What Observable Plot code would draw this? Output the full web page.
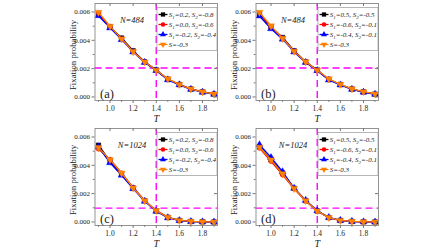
<!DOCTYPE html>
<html>
<head>
<meta charset="utf-8">
<script src="https://cdn.jsdelivr.net/npm/d3@7"></script>
<script src="https://cdn.jsdelivr.net/npm/@observablehq/plot@0.6"></script>
<style>
  html, body { margin: 0; padding: 0; background: white; }
  #fig { position: relative; width: 448px; height: 252px; overflow: hidden; background: white; }
  #fig svg { position: absolute; }
</style>
</head>
<body>
<div id="fig"></div>
<script>
// ---------- data ----------
const T = [0.9, 1.0, 1.1, 1.2, 1.3, 1.4, 1.5, 1.6, 1.7, 1.8, 1.9];
const xTicks = [1.0, 1.2, 1.4, 1.6, 1.8];
const xMinor = [0.9, 1.1, 1.3, 1.5, 1.7, 1.9];
const yTicks = [0.000, 0.002, 0.004, 0.006];
const yMinor = [0.001, 0.003, 0.005];
const seriesColors = ["#000000", "#ff0000", "#0000ff", "#ff8000"];
const panelTags = ["(a)", "(b)", "(c)", "(d)"];
const panelN = ["N=484", "N=484", "N=1024", "N=1024"];
const vLine = [1.4, 1.4, 1.4, 1.4];
const hLine = [0.00205, 0.00205, 0.00098, 0.00098];

// legend labels (S1, S2 pairs; last entry is uniform S)
const legendS1 = [["0.2", "0.0", "-0.2"], ["0.5", "-0.6", "-0.4"], ["0.2", "0.0", "-0.2"], ["0.5", "-0.6", "-0.4"]];
const legendS2 = [["-0.8", "-0.6", "-0.4"], ["-0.5", "-0.1", "-0.1"], ["-0.8", "-0.6", "-0.4"], ["-0.5", "-0.1", "-0.1"]];
const legendS = "-0.3";

// panel (a), N=484
const a_black  = [0.00585, 0.00495, 0.00416, 0.00326, 0.00248, 0.00191, 0.00125, 0.00088, 0.00056, 0.00036, 0.00020];
const a_red    = [0.00590, 0.00493, 0.00412, 0.00322, 0.00246, 0.00189, 0.00127, 0.00089, 0.00057, 0.00037, 0.00021];
const a_blue   = [0.00574, 0.00488, 0.00405, 0.00318, 0.00244, 0.00186, 0.00121, 0.00086, 0.00054, 0.00034, 0.00019];
const a_orange = [0.00598, 0.00500, 0.00410, 0.00320, 0.00247, 0.00189, 0.00128, 0.00088, 0.00056, 0.00036, 0.00020];
// panel (b), N=484
const b_black  = [0.00588, 0.00495, 0.00420, 0.00326, 0.00248, 0.00190, 0.00124, 0.00088, 0.00056, 0.00036, 0.00020];
const b_red    = [0.00585, 0.00490, 0.00418, 0.00322, 0.00246, 0.00188, 0.00122, 0.00087, 0.00055, 0.00035, 0.00020];
const b_blue   = [0.00572, 0.00482, 0.00408, 0.00318, 0.00244, 0.00186, 0.00120, 0.00085, 0.00054, 0.00034, 0.00019];
const b_orange = [0.00598, 0.00502, 0.00414, 0.00322, 0.00248, 0.00189, 0.00128, 0.00089, 0.00057, 0.00037, 0.00021];
// panel (c), N=1024
const c_black  = [0.00542, 0.00430, 0.00340, 0.00240, 0.00150, 0.00078, 0.00032, 0.00011, 0.00004, 0.00001, 0.00000];
const c_red    = [0.00515, 0.00442, 0.00346, 0.00243, 0.00152, 0.00080, 0.00033, 0.00012, 0.00004, 0.00001, 0.00000];
const c_blue   = [0.00530, 0.00418, 0.00330, 0.00235, 0.00146, 0.00076, 0.00030, 0.00010, 0.00003, 0.00001, 0.00000];
const c_orange = [0.00525, 0.00440, 0.00345, 0.00240, 0.00150, 0.00080, 0.00033, 0.00011, 0.00004, 0.00001, 0.00000];
// panel (d), N=1024
const d_black  = [0.00530, 0.00440, 0.00345, 0.00238, 0.00150, 0.00078, 0.00031, 0.00011, 0.00004, 0.00001, 0.00000];
const d_red    = [0.00522, 0.00428, 0.00332, 0.00234, 0.00148, 0.00077, 0.00030, 0.00010, 0.00003, 0.00001, 0.00000];
const d_blue   = [0.00545, 0.00455, 0.00355, 0.00238, 0.00153, 0.00079, 0.00032, 0.00011, 0.00004, 0.00001, 0.00000];
const d_orange = [0.00528, 0.00438, 0.00340, 0.00236, 0.00150, 0.00078, 0.00031, 0.00011, 0.00004, 0.00001, 0.00000];

const panels = [
  [a_black, a_red, a_blue, a_orange],
  [b_black, b_red, b_blue, b_orange],
  [c_black, c_red, c_blue, c_orange],
  [d_black, d_red, d_blue, d_orange]
];

// ---------- layout ----------
const W = 165, H = 125;
const mL = 38.5, mR = 4, mT = 3, mB = 25;
const fw = W - mL - mR, fh = H - mT - mB;
const lefts = [56, 217, 56, 217];
const tops = [0, 0, 125, 125];
const symbols = ["square", "circle", "triangle", "triangle"];
const rotations = [0, 0, 0, 180];
const fig = document.getElementById("fig");
const FONT = "'Liberation Serif', 'Times New Roman', serif";
const MAGENTA = "#ff00ff";

panels.forEach((series, p) => {
  const marks = [
    Plot.ruleY([hLine[p]], {stroke: MAGENTA, strokeWidth: 1.4, strokeDasharray: "7,4"}),
    Plot.ruleX([vLine[p]], {stroke: MAGENTA, strokeWidth: 1.4, strokeDasharray: "7,4"})
  ];
  series.forEach((vals, s) => {
    const rows = T.map((t, i) => ({T: t, p: vals[i]}));
    marks.push(Plot.line(rows, {x: "T", y: "p", stroke: seriesColors[s], strokeWidth: 1.3}));
    marks.push(Plot.dot(rows, {x: "T", y: "p", symbol: symbols[s], rotate: rotations[s], r: s === 1 ? 2.3 : 2.6,
      fill: seriesColors[s], stroke: seriesColors[s], strokeWidth: 0.4}));
  });
  marks.push(
    Plot.frame({stroke: "#888", strokeWidth: 0.9}),
    Plot.axisX({ticks: xTicks, tickFormat: d => d.toFixed(1), tickSize: 3, tickPadding: 2, label: null, stroke: "#777", fill: "#222", fontSize: 7.5}),
    Plot.axisX({ticks: xMinor, tickFormat: () => "", tickSize: 1.8, label: null, stroke: "#777"}),
    Plot.axisY({ticks: yTicks, tickFormat: d => d.toFixed(3), tickSize: 3, tickPadding: 2, label: null, stroke: "#777", fill: "#222", fontSize: 7}),
    Plot.axisY({ticks: yMinor, tickFormat: () => "", tickSize: 1.8, label: null, stroke: "#777"}),
    Plot.tickX(xTicks, {x: d => d, insetBottom: fh - 3, stroke: "#777"}),
    Plot.tickY(yTicks, {y: d => d, insetLeft: fw - 3, stroke: "#777"}),
    Plot.text([panelN[p]], {text: d => d, frameAnchor: "top-left", dx: 37, dy: 17, textAnchor: "middle", lineAnchor: "middle", fontStyle: "italic", fontSize: 8.5, fill: "#222"}),
    Plot.text([panelTags[p]], {text: d => d, frameAnchor: "bottom-left", dx: 5, dy: -6.5, textAnchor: "start", lineAnchor: "middle", fontSize: 12.5, fill: "#222"}),
    Plot.text(["Fixation probability"], {text: d => d, frameAnchor: "left", dx: -22, dy: 3, textAnchor: "middle", lineAnchor: "middle", rotate: -90, fontSize: 8.8, fill: "#222"}),
    Plot.text(["T"], {text: d => d, frameAnchor: "bottom", dy: 18, textAnchor: "middle", lineAnchor: "middle", fontStyle: "italic", fontSize: 10, fill: "#222"})
  );

  const svg = Plot.plot({
    width: W, height: H,
    marginLeft: mL, marginRight: mR, marginTop: mT, marginBottom: mB,
    x: {domain: [0.87, 1.93]},
    y: {domain: [-0.00025, 0.0066]},
    style: {fontFamily: FONT, fontSize: "7.5px", background: "transparent", overflow: "visible"},
    marks
  });
  svg.style.left = lefts[p] + "px";
  svg.style.top = tops[p] + "px";
  svg.style.maxWidth = "none";

  // legend box inside the frame (top-right)
  const g = d3.select(svg).append("g").attr("text-anchor", "start");
  const Lx = mL + fw - 60, Ly = mT + 4.5;
  g.append("rect").attr("x", Lx).attr("y", Ly).attr("width", 60).attr("height", 43)
    .attr("fill", "white").attr("stroke", "#999").attr("stroke-width", 0.7);
  const symPaths = [
    d3.symbol(d3.symbolSquare, 18)(),
    d3.symbol(d3.symbolCircle, 16)(),
    d3.symbol(d3.symbolTriangle, 16)(),
    d3.symbol(d3.symbolTriangle, 16)()
  ];
  for (let i = 0; i < 4; i++) {
    const cy = Ly + 7 + 10 * i;
    g.append("line").attr("x1", Lx + 1.5).attr("x2", Lx + 10.5).attr("y1", cy).attr("y2", cy)
      .attr("stroke", seriesColors[i]).attr("stroke-width", 1.3);
    g.append("path").attr("d", symPaths[i])
      .attr("transform", `translate(${Lx + 6},${cy}) rotate(${rotations[i]})`)
      .attr("fill", seriesColors[i]);
    const t = g.append("text").attr("x", Lx + 11.8).attr("y", cy + 2.4).attr("text-anchor", "start")
      .attr("font-family", FONT).attr("font-size", 7).attr("font-style", "italic").attr("fill", "#222");
    if (i < 3) {
      t.append("tspan").text("S");
      t.append("tspan").attr("dy", 1.6).attr("font-size", 5).text("1");
      t.append("tspan").attr("dy", -1.6).text("=" + legendS1[p][i] + ", S");
      t.append("tspan").attr("dy", 1.6).attr("font-size", 5).text("2");
      t.append("tspan").attr("dy", -1.6).text("=" + legendS2[p][i]);
    } else {
      t.text("S=" + legendS);
    }
  }
  fig.appendChild(svg);
});
</script>
</body>
</html>
